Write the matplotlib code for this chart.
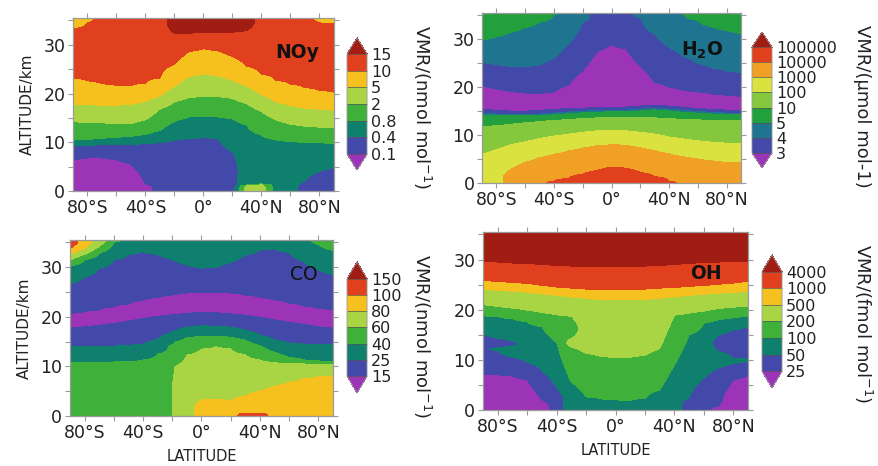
import numpy as np
import matplotlib
matplotlib.use("Agg")
import matplotlib.pyplot as plt

# latitude columns (deg) and, for each column, the colour classes from the ground up
# written as (class, altitude of the top of that class in km); class 0 = below lowest level
lats = [-90, -80, -70, -60, -50, -40, -30, -20, -10, 0, 10, 20, 30, 40, 50, 60, 70, 80, 90]

noy_cols = [
    [(0, 6.5), (1, 9.3), (2, 10.5), (3, 14.2), (4, 17.8), (5, 23.2), (6, 33.3), (5, 36)],
    [(0, 6.8), (1, 9.4), (2, 10.5), (3, 14.1), (4, 17.7), (5, 22.6), (6, 34.5), (5, 36)],
    [(0, 6.8), (1, 9.5), (2, 10.8), (3, 14.0), (4, 17.6), (5, 22.0), (6, 36)],
    [(0, 6.5), (1, 9.5), (2, 11.0), (3, 13.8), (4, 17.6), (5, 21.6), (6, 36)],
    [(0, 5.5), (1, 9.6), (2, 11.2), (3, 13.8), (4, 17.8), (5, 21.6), (6, 36)],
    [(0, 1.5), (1, 9.8), (2, 11.6), (3, 14.6), (4, 18.4), (5, 22.1), (6, 36)],
    [(1, 10.0), (2, 12.4), (3, 16.8), (4, 19.5), (5, 23.2), (6, 36)],
    [(1, 10.5), (2, 14.3), (3, 18.3), (4, 21.5), (5, 26.0), (6, 32.4), (7, 36)],
    [(1, 10.8), (2, 15.2), (3, 19.2), (4, 23.5), (5, 28.6), (6, 32.4), (7, 36)],
    [(1, 11.0), (2, 15.3), (3, 19.4), (4, 24.0), (5, 29.2), (6, 32.5), (7, 36)],
    [(1, 10.8), (2, 15.2), (3, 19.4), (4, 23.6), (5, 28.8), (6, 32.5), (7, 36)],
    [(1, 8.0), (2, 14.8), (3, 19.0), (4, 22.7), (5, 27.6), (6, 32.6), (7, 36)],
    [(4, 1.2), (2, 13.5), (3, 17.9), (4, 21.5), (5, 25.6), (6, 33.0), (7, 36)],
    [(4, 1.4), (2, 11.5), (3, 16.3), (4, 19.8), (5, 24.0), (6, 36)],
    [(2, 10.5), (3, 14.6), (4, 18.3), (5, 22.7), (6, 36)],
    [(2, 10.2), (3, 13.7), (4, 17.5), (5, 21.9), (6, 36)],
    [(1, 2.0), (2, 10.0), (3, 13.3), (4, 17.0), (5, 21.2), (6, 36)],
    [(1, 4.0), (2, 9.9), (3, 13.1), (4, 16.8), (5, 20.6), (6, 34.6), (5, 36)],
    [(1, 4.8), (2, 9.8), (3, 13.0), (4, 16.6), (5, 20.3), (6, 34.3), (5, 36)],
]

h2o_cols = [
    [(5, 6.0), (4, 11.8), (3, 14.3), (2, 14.6), (1, 15.3), (0, 20.3), (1, 25.2), (2, 29.8), (3, 36)],
    [(5, 7.0), (4, 12.0), (3, 14.1), (2, 14.4), (1, 15.1), (0, 19.6), (1, 24.7), (2, 30.5), (3, 36)],
    [(6, 2.8), (5, 8.0), (4, 12.3), (3, 14.0), (2, 14.3), (1, 15.0), (0, 19.1), (1, 24.3), (2, 31.5), (3, 36)],
    [(6, 4.3), (5, 8.6), (4, 12.6), (3, 14.0), (2, 14.3), (1, 15.0), (0, 18.8), (1, 24.3), (2, 32.5), (3, 36)],
    [(6, 5.3), (5, 9.3), (4, 12.9), (3, 14.1), (2, 14.4), (1, 15.1), (0, 18.6), (1, 24.6), (2, 33.6), (3, 36)],
    [(7, 0.3), (6, 6.0), (5, 9.8), (4, 13.1), (3, 14.3), (2, 14.6), (1, 15.3), (0, 19.0), (1, 26.0), (2, 35.2), (3, 36)],
    [(7, 0.9), (6, 6.7), (5, 10.2), (4, 13.3), (3, 14.5), (2, 14.8), (1, 15.5), (0, 20.5), (1, 29.0), (2, 36)],
    [(7, 1.8), (6, 7.3), (5, 10.6), (4, 13.5), (3, 14.7), (2, 15.0), (1, 15.6), (0, 23.5), (1, 33.5), (2, 36)],
    [(7, 2.6), (6, 7.8), (5, 10.9), (4, 13.6), (3, 14.8), (2, 15.1), (1, 15.7), (0, 27.5), (1, 36)],
    [(7, 3.3), (6, 8.0), (5, 11.0), (4, 13.7), (3, 14.9), (2, 15.2), (1, 15.8), (0, 28.9), (1, 36)],
    [(7, 3.1), (6, 7.9), (5, 10.9), (4, 13.7), (3, 14.9), (2, 15.2), (1, 15.8), (0, 28.0), (1, 36)],
    [(7, 2.2), (6, 7.4), (5, 10.6), (4, 13.7), (3, 15.1), (2, 15.4), (1, 16.0), (0, 24.5), (1, 34.5), (2, 36)],
    [(7, 1.3), (6, 6.8), (5, 10.2), (4, 13.6), (3, 15.3), (2, 15.6), (1, 16.2), (0, 21.0), (1, 31.0), (2, 36)],
    [(7, 0.3), (6, 6.1), (5, 9.6), (4, 13.5), (3, 15.1), (2, 15.4), (1, 16.0), (0, 20.0), (1, 28.3), (2, 36)],
    [(6, 5.5), (5, 9.2), (4, 13.3), (3, 14.8), (2, 15.1), (1, 15.7), (0, 19.3), (1, 26.5), (2, 35.3), (3, 36)],
    [(6, 5.0), (5, 8.8), (4, 13.2), (3, 14.6), (2, 14.9), (1, 15.5), (0, 19.0), (1, 25.0), (2, 34.0), (3, 36)],
    [(6, 4.6), (5, 8.5), (4, 13.1), (3, 14.4), (2, 14.7), (1, 15.3), (0, 18.6), (1, 24.0), (2, 32.6), (3, 36)],
    [(6, 4.3), (5, 8.3), (4, 13.0), (3, 14.3), (2, 14.6), (1, 15.2), (0, 18.3), (1, 23.4), (2, 31.9), (3, 36)],
    [(6, 4.2), (5, 8.2), (4, 13.0), (3, 14.2), (2, 14.5), (1, 15.1), (0, 18.1), (1, 23.0), (2, 31.2), (3, 36)],
]

co_lats = [-90, -80, -70, -60, -50, -40, -30, -22, -18, -10, 0, 10, 20, 30, 40, 50, 60, 70, 80, 90]
co_cols = [
    [(3, 10.8), (2, 14.1), (1, 17.7), (0, 20.6), (1, 26.7), (2, 30.3), (3, 31.4), (4, 32.7), (5, 33.7), (6, 36)],
    [(3, 10.8), (2, 14.1), (1, 18.0), (0, 21.0), (1, 28.0), (2, 31.5), (3, 32.6), (4, 33.8), (5, 36)],
    [(3, 10.8), (2, 14.1), (1, 18.3), (0, 21.4), (1, 29.8), (2, 32.8), (3, 34.2), (4, 36)],
    [(3, 10.9), (2, 14.1), (1, 18.7), (0, 22.0), (1, 31.5), (2, 35.0), (3, 36)],
    [(3, 11.0), (2, 14.2), (1, 19.2), (0, 22.6), (1, 32.6), (2, 36)],
    [(3, 11.3), (2, 14.5), (1, 19.7), (0, 23.3), (1, 33.2), (2, 36)],
    [(3, 12.5), (2, 15.4), (1, 20.1), (0, 23.9), (1, 32.6), (2, 36)],
    [(3, 14.2), (2, 16.7), (1, 20.35), (0, 24.3), (1, 31.8), (2, 36)],
    [(4, 10.0), (3, 14.9), (2, 17.2), (1, 20.45), (0, 24.5), (1, 31.3), (2, 36)],
    [(4, 12.3), (3, 15.8), (2, 17.9), (1, 20.7), (0, 24.8), (1, 30.4), (2, 36)],
    [(5, 3.2), (4, 13.5), (3, 16.1), (2, 18.2), (1, 20.9), (0, 25.0), (1, 29.8), (2, 36)],
    [(5, 3.4), (4, 14.0), (3, 16.1), (2, 18.1), (1, 20.8), (0, 25.0), (1, 30.0), (2, 36)],
    [(5, 2.9), (4, 13.6), (3, 15.9), (2, 17.9), (1, 20.6), (0, 24.8), (1, 31.0), (2, 36)],
    [(6, 0.6), (5, 4.0), (4, 12.4), (3, 15.3), (2, 17.3), (1, 20.3), (0, 24.4), (1, 32.5), (2, 36)],
    [(6, 0.6), (5, 5.0), (4, 11.3), (3, 14.2), (2, 16.3), (1, 19.9), (0, 23.9), (1, 33.5), (2, 36)],
    [(5, 6.0), (4, 10.8), (3, 12.8), (2, 15.3), (1, 19.4), (0, 23.4), (1, 33.8), (2, 36)],
    [(5, 6.8), (4, 10.6), (3, 11.8), (2, 14.7), (1, 18.9), (0, 22.8), (1, 33.0), (2, 36)],
    [(5, 7.5), (4, 10.5), (3, 11.3), (2, 14.5), (1, 18.5), (0, 22.2), (1, 31.2), (2, 36)],
    [(5, 7.9), (4, 10.4), (3, 11.1), (2, 14.4), (1, 18.0), (0, 21.7), (1, 29.5), (2, 34.6), (3, 36)],
    [(5, 8.1), (4, 10.4), (3, 11.0), (2, 14.4), (1, 17.7), (0, 21.4), (1, 28.5), (2, 33.4), (3, 36)],
]

oh_cols = [
    [(0, 7.0), (1, 15.3), (2, 18.8), (3, 21.0), (4, 24.0), (5, 25.8), (6, 29.7), (7, 36)],
    [(0, 7.0), (1, 11.8), (2, 12.4), (1, 14.3), (2, 18.6), (3, 20.6), (4, 23.9), (5, 25.6), (6, 29.5), (7, 36)],
    [(0, 6.8), (1, 10.5), (2, 12.8), (1, 13.6), (2, 18.2), (3, 20.3), (4, 23.7), (5, 25.4), (6, 29.3), (7, 36)],
    [(0, 6.0), (1, 9.5), (2, 17.6), (3, 19.9), (4, 23.5), (5, 25.2), (6, 29.2), (7, 36)],
    [(0, 2.0), (1, 7.8), (2, 16.6), (3, 19.4), (4, 23.2), (5, 24.8), (6, 29.0), (7, 36)],
    [(1, 4.5), (2, 13.5), (3, 19.0), (4, 22.9), (5, 24.5), (6, 28.8), (7, 36)],
    [(2, 5.5), (3, 12.5), (4, 14.3), (3, 18.7), (4, 22.6), (5, 24.3), (6, 28.7), (7, 36)],
    [(2, 2.6), (3, 11.3), (4, 22.3), (5, 24.1), (6, 28.6), (7, 36)],
    [(2, 2.2), (3, 10.7), (4, 22.1), (5, 24.0), (6, 28.6), (7, 36)],
    [(2, 2.0), (3, 10.4), (4, 22.0), (5, 24.0), (6, 28.6), (7, 36)],
    [(2, 1.9), (3, 10.5), (4, 22.0), (5, 24.0), (6, 28.6), (7, 36)],
    [(2, 2.3), (3, 10.9), (4, 22.1), (5, 24.1), (6, 28.7), (7, 36)],
    [(2, 4.0), (3, 12.2), (4, 22.3), (5, 24.3), (6, 28.8), (7, 36)],
    [(2, 9.0), (3, 18.9), (4, 22.6), (5, 24.4), (6, 29.0), (7, 36)],
    [(1, 2.5), (2, 15.0), (3, 19.3), (4, 22.9), (5, 24.6), (6, 29.2), (7, 36)],
    [(1, 6.3), (2, 17.3), (3, 19.7), (4, 23.1), (5, 24.8), (6, 29.4), (7, 36)],
    [(0, 0.8), (1, 8.4), (2, 11.7), (1, 15.0), (2, 18.0), (3, 20.2), (4, 23.3), (5, 25.0), (6, 29.5), (7, 36)],
    [(0, 6.0), (1, 9.3), (2, 10.3), (1, 16.0), (2, 18.4), (3, 20.5), (4, 23.5), (5, 25.3), (6, 29.6), (7, 36)],
    [(0, 7.0), (1, 9.8), (2, 10.3), (1, 16.7), (2, 18.7), (3, 20.7), (4, 23.6), (5, 25.6), (6, 29.7), (7, 36)],
]

noy_levels = ["0.1", "0.4", "0.8", "2", "5", "10", "15"]
h2o_levels = ["3", "4", "5", "10", "100", "1000", "10000", "100000"]
co_levels = ["15", "25", "40", "60", "80", "100", "150"]
oh_levels = ["25", "50", "100", "200", "500", "1000", "4000"]

PURPLE, BLUE, TEAL, GREEN = "#9b34b6", "#4249a9", "#0f806e", "#3fb03a"
LGREEN, YELLOW, RED, DRED = "#a9d443", "#f6c11e", "#e1401f", "#a11d13"
pal8 = [PURPLE, BLUE, TEAL, GREEN, LGREEN, YELLOW, RED, DRED]
pal_h2o = [PURPLE, BLUE, "#1f7490", "#22a03e", "#85c83d", "#d9e23f", "#f0a024", RED, DRED]

alt = np.linspace(0, 36, 721)


def profile(runs, eps=0.03):
    xs, ys = [0.0], [runs[0][0]]
    lo = 0.0
    for i, (c, top) in enumerate(runs):
        xs.append((lo + top) / 2)
        ys.append(c)
        if i < len(runs) - 1:
            n = runs[i + 1][0]
            if abs(n - c) == 1:
                xs.append(top)
                ys.append((c + n) / 2)
            else:
                s = np.sign(n - c)
                xs += [top - eps, top + eps]
                ys += [c + 0.49 * s, n - 0.49 * s]
        lo = top
    xs.append(runs[-1][1])
    ys.append(runs[-1][0])
    return np.interp(alt, xs, ys)


def panel(ax_rect, cb_rect, ext, la, cols, colors, labels, name, cblabel, name_xy,
          name_weight, ylab, xlab, label_xy):
    ax = fig.add_axes(ax_rect)
    field = np.column_stack([profile(c) for c in cols])
    levels = np.arange(len(colors) - 1) + 0.5
    cs = ax.contourf(la, alt, field, levels=levels, colors=colors, extend="both")
    ax.set_xlim(-90, 90)
    ax.set_ylim(0, 35.5)
    ax.set_xticks([-80, -40, 0, 40, 80])
    ax.set_xticklabels(["80°S", "40°S", "0°", "40°N", "80°N"])
    ax.set_xticks([-60, -20, 20, 60], minor=True)
    ax.set_yticks([0, 10, 20, 30])
    ax.set_yticks([5, 15, 25, 35], minor=True)
    for which in ("major", "minor"):
        ax.tick_params(which=which, direction="out", length=3.5, width=0.8, color="#9a9a9a",
                       top=True, right=True, labelsize=12.5, labelcolor="#222222", pad=2)
    for sp in ax.spines.values():
        sp.set_color("#9a9a9a")
        sp.set_linewidth(0.9)
    if ylab:
        ax.set_ylabel("ALTITUDE/km", fontsize=11, color="#222222", labelpad=6)
    if xlab:
        ax.set_xlabel("LATITUDE", fontsize=10.5, color="#222222", labelpad=5)
    fig.text(name_xy[0], name_xy[1], name, fontsize=13.5, fontweight=name_weight,
             ha="center", va="center", color="#111111")

    cax = fig.add_axes(cb_rect)
    cb = fig.colorbar(cs, cax=cax, extendfrac=ext, drawedges=True)
    cb.set_ticks(levels)
    cb.set_ticklabels(labels)
    cb.ax.tick_params(length=0, labelsize=11.5, labelcolor="#222222", pad=3)
    cb.outline.set_edgecolor("#9a9a9a")
    cb.outline.set_linewidth(0.6)
    cb.dividers.set_color("#555555")
    cb.dividers.set_linewidth(0.5)
    fig.text(label_xy[0], label_xy[1], cblabel, rotation=270, fontsize=13,
             ha="center", va="center", color="#222222")


fig = plt.figure(figsize=(8.79, 4.66), dpi=100)

panel([0.0830, 0.5901, 0.2969, 0.3712], [0.3948, 0.6352, 0.0228, 0.2833], 0.16,
      lats, noy_cols, pal8, noy_levels, "NOy", "VMR/(nmol mol$^{-1}$)",
      (0.338, 0.888), "bold", True, False, (0.480, 0.770))
panel([0.5484, 0.6073, 0.2947, 0.3648], [0.8555, 0.6395, 0.0228, 0.2918], 0.145,
      lats, h2o_cols, pal_h2o, h2o_levels, r"H$_{\mathbf{2}}$O", "VMR/(μmol mol-1)",
      (0.799, 0.891), "bold", False, False, (0.981, 0.772))
panel([0.0796, 0.1073, 0.2992, 0.3777], [0.3948, 0.1567, 0.0228, 0.2811], 0.175,
      co_lats, co_cols, pal8, co_levels, "CO", "VMR/(nmol mol$^{-1}$)",
      (0.346, 0.412), "normal", True, True, (0.480, 0.279))
panel([0.5495, 0.1202, 0.3015, 0.3820], [0.8669, 0.1674, 0.0228, 0.2854], 0.17,
      lats, oh_cols, pal8, oh_levels, "OH", "VMR/(fmol mol$^{-1}$)",
      (0.803, 0.414), "bold", False, True, (0.982, 0.305))

fig.savefig("out.png", dpi=100)
